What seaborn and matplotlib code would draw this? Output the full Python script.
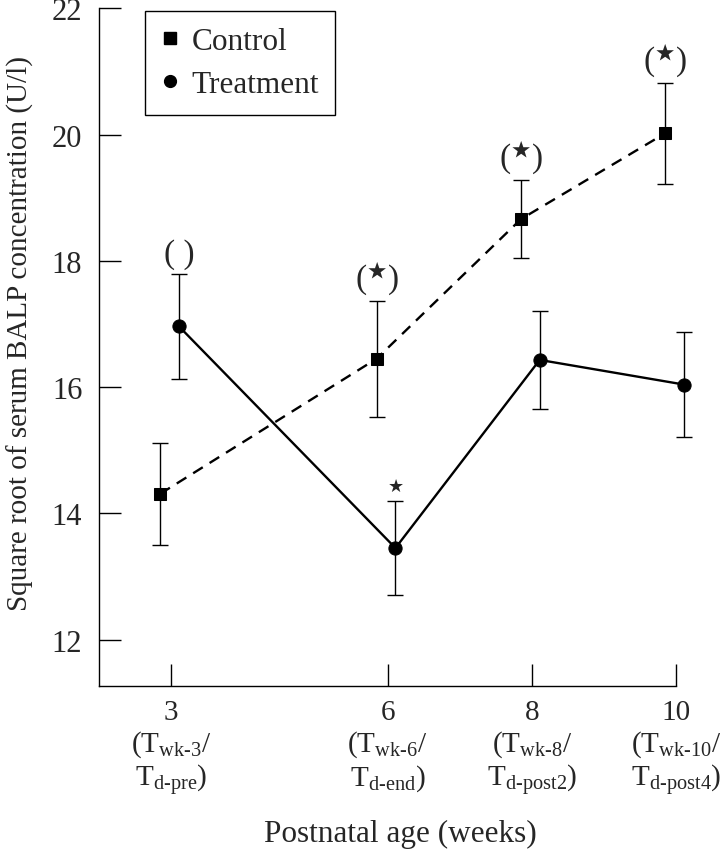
import numpy as np
import pandas as pd
import matplotlib
matplotlib.use("Agg")
import matplotlib.pyplot as plt
import seaborn as sns
from matplotlib.lines import Line2D

# ---- data ----
weeks = [3, 6, 8, 10]
week_labels = [
    "3\n$\\mathrm{(T_{wk\u20103}/}$\n$\\mathrm{T_{d\u2010pre})}$",
    "6\n$\\mathrm{(T_{wk\u20106}/}$\n$\\mathrm{T_{d\u2010end})}$",
    "8\n$\\mathrm{(T_{wk\u20108}/}$\n$\\mathrm{T_{d\u2010post2})}$",
    "10\n$\\mathrm{(T_{wk\u201010}/}$\n$\\mathrm{T_{d\u2010post4})}$",
]
control_mean = [14.31, 16.45, 18.66, 20.02]
control_err = [0.81, 0.92, 0.62, 0.80]
treatment_mean = [16.96, 13.45, 16.43, 16.04]
treatment_err = [0.83, 0.75, 0.77, 0.83]
control_sig = ["", "(*)", "(*)", "(*)"]
treatment_sig = ["( )", "*", "", ""]
yticks = [12, 14, 16, 18, 20, 22]

# ---- style ----
sns.set_theme(style="ticks")
plt.rcParams["font.family"] = ["Liberation Serif", "DejaVu Sans"]
plt.rcParams["mathtext.fontset"] = "custom"
plt.rcParams["mathtext.rm"] = "Liberation Serif"
plt.rcParams["mathtext.it"] = "Liberation Serif:italic"
plt.rcParams["mathtext.bf"] = "Liberation Serif:bold"
plt.rcParams["mathtext.fallback"] = "stix"

offset_c, offset_t = -0.15, 0.11
df = pd.DataFrame({
    "week": weeks * 2,
    "x": [w + offset_c for w in weeks] + [w + offset_t for w in weeks],
    "value": control_mean + treatment_mean,
    "err": control_err + treatment_err,
    "group": ["Control"] * 4 + ["Treatment"] * 4,
})

fig = plt.figure(figsize=(7.2, 8.53), dpi=100)
ax = fig.add_axes([99 / 720, 1 - 687.3 / 853, 577 / 720, 678 / 853])

dc = df[df.group == "Control"]
dt = df[df.group == "Treatment"]

sns.lineplot(data=dc, x="x", y="value", ax=ax, color="black", marker="s",
             markersize=9, linewidth=1.7, linestyle=(0, (4.8, 3.4)),
             markeredgecolor="black", clip_on=False, legend=False, zorder=3)
sns.lineplot(data=dt, x="x", y="value", ax=ax, color="black", marker="o",
             markersize=9.5, linewidth=1.7, linestyle="-",
             markeredgecolor="black", clip_on=False, legend=False, zorder=3)

for sub in (dc, dt):
    eb = ax.errorbar(sub["x"], sub["value"], yerr=sub["err"], fmt="none",
                     ecolor="black", elinewidth=1.0, capsize=6, capthick=1.0,
                     zorder=2)
    for art in eb.get_children():
        art.set_clip_on(False)

# significance annotations
def annotate(xs, tops, labels):
    for x, top, lab in zip(xs, tops, labels):
        if lab == "( )":
            ax.annotate("( )", (x, top), xytext=(0, 15), textcoords="offset points",
                        ha="center", va="center", fontsize=24, annotation_clip=False)
        elif lab == "(*)":
            ax.annotate("$(^{\\bigstar})$", (x, top), xytext=(0, 16),
                        textcoords="offset points", ha="center", va="center",
                        fontsize=24, annotation_clip=False)
        elif lab == "*":
            ax.annotate("\u2605", (x, top), xytext=(0, 11), textcoords="offset points",
                        ha="center", va="center", fontsize=13, family="DejaVu Sans",
                        annotation_clip=False)

annotate(dc["x"], dc["value"] + dc["err"], control_sig)
annotate(dt["x"], dt["value"] + dt["err"], treatment_sig)

# axes
ax.set_xlim(2, 10)
ax.set_ylim(11.26, 22)
ax.set_xticks(weeks)
ax.set_xticklabels(week_labels, fontsize=21, linespacing=1.15)
ax.set_yticks(yticks)
ax.set_yticklabels([str(t) for t in yticks], fontsize=22)
ax.tick_params(axis="both", direction="in", length=16, width=1.0, color="black")
ax.tick_params(axis="x", pad=9)
ax.tick_params(axis="y", pad=12)
for s in ("top", "right"):
    ax.spines[s].set_visible(False)
for s in ("left", "bottom"):
    ax.spines[s].set_color("black")
    ax.spines[s].set_linewidth(1.0)

ax.set_xlabel("Postnatal age (weeks)", fontsize=22.5)
ax.set_ylabel("Square root of serum BALP concentration (U/l)", fontsize=21)
ax.xaxis.set_label_coords(0.5217, -0.196)
ax.yaxis.set_label_coords(-0.113, 0.522)

handles = [
    Line2D([], [], color="black", marker="s", linestyle="none", markersize=8.5),
    Line2D([], [], color="black", marker="o", linestyle="none", markersize=8.5),
]
leg = ax.legend(handles, ["Control", "Treatment"], loc="upper left",
                bbox_to_anchor=(0.0797, 0.996), borderaxespad=0, fontsize=22.5,
                frameon=True, fancybox=False, edgecolor="black",
                handlelength=0.6, handletextpad=0.4, borderpad=0.5,
                labelspacing=0.46)
leg.get_frame().set_linewidth(1.0)
leg.get_frame().set_alpha(1)

fig.savefig("out.png", dpi=100)
